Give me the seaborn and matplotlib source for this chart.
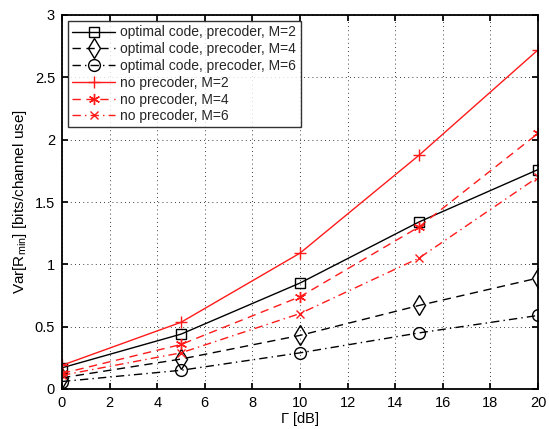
import matplotlib
matplotlib.use("Agg")
import matplotlib.pyplot as plt
import seaborn as sns
import pandas as pd

sns.set_theme(style="white")
plt.rcParams["font.family"] = ["Liberation Sans", "DejaVu Sans"]
plt.rcParams["mathtext.fontset"] = "custom"
plt.rcParams["mathtext.rm"] = "Liberation Sans"
plt.rcParams["mathtext.it"] = "Liberation Sans"

# SNR values (dB)
gamma_db = [0, 5, 10, 15, 20]

# Variance of the minimum rate for each scheme
opt_m2 = [0.17, 0.44, 0.85, 1.34, 1.76]
opt_m4 = [0.09, 0.24, 0.43, 0.67, 0.89]
opt_m6 = [0.06, 0.15, 0.29, 0.45, 0.59]
nop_m2 = [0.19, 0.535, 1.09, 1.875, 2.72]
nop_m4 = [0.125, 0.357, 0.74, 1.30, 2.05]
nop_m6 = [0.11, 0.29, 0.605, 1.05, 1.70]

labels = [
    "optimal code, precoder, M=2",
    "optimal code, precoder, M=4",
    "optimal code, precoder, M=6",
    "no precoder, M=2",
    "no precoder, M=4",
    "no precoder, M=6",
]
series = [opt_m2, opt_m4, opt_m6, nop_m2, nop_m4, nop_m6]

red = "#ff1a1a"
asterisk = (6, 2, 0)
styles = [
    dict(color="black", ls="-", marker="s", ms=7),
    dict(color="black", ls=(0, (6, 4)), marker="d", ms=10),
    dict(color="black", ls=(0, (6, 3, 1, 3)), marker="o", ms=8.5),
    dict(color=red, ls="-", marker="+", ms=8),
    dict(color=red, ls=(0, (6, 4)), marker=asterisk, ms=8),
    dict(color=red, ls=(0, (6, 3, 1, 3)), marker="x", ms=6),
]

fig = plt.figure(figsize=(5.49, 4.29), dpi=100)
ax = fig.add_axes([62 / 549, 1 - 389 / 429, 476 / 549, 374 / 429])

for lab, vals, st in zip(labels, series, styles):
    df = pd.DataFrame({"gamma": gamma_db, "var": vals})
    sns.lineplot(
        data=df, x="gamma", y="var", ax=ax, label=lab,
        color=st["color"], linestyle=st["ls"], linewidth=1.0,
        marker=st["marker"], markersize=st["ms"],
        markerfacecolor="none", markeredgecolor=st["color"],
        markeredgewidth=1.0,
    )

ax.set_xlim(0, 20)
ax.set_ylim(0, 3)
ax.set_xticks(range(0, 21, 2))
ax.set_yticks([0, 0.5, 1, 1.5, 2, 2.5, 3])
ax.set_yticklabels(["0", "0.5", "1", "1.5", "2", "2.5", "3"])
ax.grid(True, color="black", linestyle=(0, (1, 4)), linewidth=0.6)
ax.tick_params(direction="in", length=4, labelsize=10.5, colors="black",
               top=True, right=True, bottom=True, left=True, pad=5)
for sp in ax.spines.values():
    sp.set_color("black")
    sp.set_linewidth(1.3)

ax.set_xlabel(r"$\Gamma$ [dB]", fontsize=10.5, color="black", labelpad=0)
ax.set_ylabel(r"Var[R$_{\mathrm{min}}$] [bits/channel use]", fontsize=11,
              color="black", labelpad=4)

leg = ax.legend(loc="upper left", fontsize=10, frameon=True, fancybox=False,
                edgecolor="black", borderpad=0.3, labelspacing=0.2,
                handlelength=3.1, handletextpad=0.35, borderaxespad=0.45)
leg.get_frame().set_linewidth(1.0)

fig.savefig("out.png", dpi=100)
